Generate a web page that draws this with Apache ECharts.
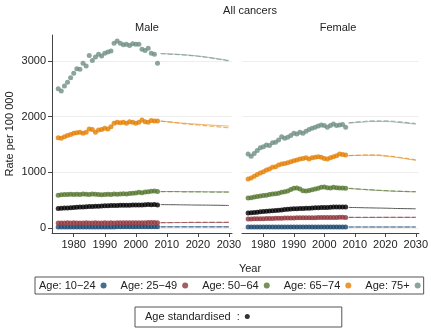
<!DOCTYPE html>
<html>
<head>
<meta charset="utf-8">
<script src="https://cdn.jsdelivr.net/npm/echarts@6/dist/echarts.min.js"></script>
<style>
  html, body { margin: 0; padding: 0; background: #fff; }
  #chart { width: 431px; height: 330px; }
</style>
</head>
<body>
<div id="chart"></div>
<script>
// observed years and projection years
const years = [1975, 1976, 1977, 1978, 1979, 1980, 1981, 1982, 1983, 1984, 1985, 1986, 1987, 1988, 1989, 1990, 1991,
  1992, 1993, 1994, 1995, 1996, 1997, 1998, 1999, 2000, 2001, 2002, 2003, 2004, 2005, 2006, 2007]
const projYears = [2008, 2012, 2016, 2020, 2024, 2030]
const xTicks = [1980, 1990, 2000, 2010, 2020, 2030]
const yTicks = [0, 1000, 2000, 3000]

const groups = ['Age: 10\u221224', 'Age: 25\u221249', 'Age: 50\u221264', 'Age: 65\u221274', 'Age: 75+']
const stdName = 'Age standardised  :'

// Male
const male1024 = [17, 17, 18, 18, 18, 18, 19, 19, 19, 19, 19, 20, 20, 20, 20, 20, 20, 20, 20, 21, 21, 21, 21, 21, 21, 21, 21, 21, 21, 21, 21, 21, 21]
const male2549 = [88, 90, 90, 92, 90, 92, 90, 91, 90, 92, 90, 91, 92, 90, 91, 92, 90, 92, 91, 92, 93, 92, 93, 94, 93, 95, 96, 95, 96, 97, 98, 97, 96]
const male5064 = [590, 595, 600, 600, 605, 600, 605, 600, 610, 605, 600, 610, 605, 600, 595, 600, 605, 600, 610, 605, 610, 615, 610, 620, 625, 630, 640, 635, 645, 650, 660, 665, 655]
const male6574 = [1620, 1610, 1640, 1660, 1680, 1700, 1710, 1720, 1700, 1720, 1780, 1770, 1720, 1760, 1770, 1790, 1780, 1820, 1880, 1900, 1890, 1900, 1880, 1910, 1900, 1880, 1900, 1940, 1910, 1900, 1930, 1920, 1920]
const male75 = [2500, 2460, 2550, 2620, 2700, 2780, 2860, 2850, 2960, 2910, 3100, 3010, 3070, 3120, 3090, 3140, 3160, 3180, 3320, 3360, 3320, 3290, 3300, 3280, 3310, 3300, 3300, 3210, 3190, 3230, 3140, 3120, 2960]
const maleStd = [350, 355, 360, 360, 365, 370, 372, 375, 378, 380, 385, 385, 390, 392, 395, 400, 400, 402, 405, 405, 408, 410, 410, 410, 412, 412, 415, 415, 418, 420, 418, 420, 415]

// Male projections: dashed (A) and solid (B)
const maleProjA = [
  [21, 21, 21, 21, 21, 21],
  [96, 98, 99, 100, 101, 102],
  [655, 652, 650, 648, 646, 645],
  [1920, 1895, 1870, 1850, 1830, 1800],
  [3130, 3120, 3105, 3085, 3055, 3000],
]
const maleProjB = [
  [21, 21, 21, 21, 21, 21],
  [96, 97, 98, 99, 100, 101],
  [655, 655, 653, 652, 650, 648],
  [1920, 1900, 1880, 1865, 1850, 1830],
  [3135, 3125, 3110, 3090, 3062, 3010],
]
const maleStdProj = [420, 418, 415, 412, 410, 405]

// Female
const fem1024 = [16, 16, 16, 17, 17, 17, 17, 17, 17, 17, 17, 17, 18, 18, 18, 18, 18, 18, 18, 18, 18, 18, 18, 18, 18, 18, 18, 18, 18, 18, 18, 18, 18]
const fem2549 = [160, 162, 164, 165, 166, 168, 170, 170, 172, 174, 175, 176, 178, 178, 180, 180, 182, 182, 183, 184, 185, 185, 186, 187, 188, 188, 189, 190, 190, 190, 191, 191, 190]
const fem5064 = [540, 545, 555, 565, 575, 585, 590, 600, 610, 615, 625, 640, 650, 665, 690, 715, 720, 700, 670, 665, 675, 685, 700, 715, 730, 735, 725, 720, 730, 725, 720, 720, 715]
const fem6574 = [880, 900, 930, 960, 990, 1010, 1040, 1060, 1090, 1100, 1130, 1150, 1160, 1170, 1190, 1210, 1220, 1240, 1250, 1260, 1240, 1260, 1270, 1280, 1270, 1250, 1240, 1260, 1280, 1300, 1330, 1320, 1310]
const fem75 = [1330, 1290, 1340, 1390, 1440, 1460, 1490, 1480, 1530, 1540, 1580, 1640, 1610, 1630, 1660, 1700, 1690, 1720, 1700, 1740, 1770, 1790, 1810, 1830, 1850, 1840, 1810, 1840, 1870, 1840, 1850, 1860, 1810]
const femStd = [270, 275, 280, 285, 290, 295, 300, 305, 310, 315, 320, 325, 330, 335, 340, 345, 345, 350, 350, 355, 355, 360, 362, 365, 368, 370, 370, 372, 375, 375, 378, 378, 375]

const femProjA = [
  [18, 18, 18, 18, 18, 18],
  [190, 190, 191, 192, 192, 192],
  [712, 698, 684, 672, 662, 652],
  [1300, 1310, 1315, 1300, 1275, 1225],
  [1890, 1910, 1925, 1925, 1910, 1875],
]
const femProjB = [
  [18, 18, 18, 18, 18, 18],
  [190, 189, 190, 191, 191, 191],
  [710, 695, 680, 668, 658, 650],
  [1300, 1305, 1305, 1290, 1265, 1215],
  [1885, 1900, 1912, 1912, 1898, 1865],
]
const femStdProj = [370, 365, 360, 356, 350, 345]

const colors = ['#1a476f', '#90353b', '#55752f', '#e37e00', '#6e8e84']
const font = 'Liberation Sans'
const textColor = '#222'

function pairs(xs, vals) {
  return xs.map((x, i) => [x, vals[i]])
}

function panelSeries(idx, obs, std, projA, projB, stdProj) {
  const list = []
  obs.forEach((vals, g) => {
    list.push({
      name: groups[g], type: 'scatter', xAxisIndex: idx, yAxisIndex: idx,
      data: pairs(years, vals), symbolSize: 5, itemStyle: { color: colors[g] }, z: 3,
    })
    list.push({
      name: 'projA' + g, type: 'line', xAxisIndex: idx, yAxisIndex: idx, smooth: true, symbol: 'none',
      data: pairs(projYears, projA[g]),
      lineStyle: { color: colors[g], width: 1.2, type: [5, 2], opacity: 0.6 }, z: 2,
    })
    list.push({
      name: 'projB' + g, type: 'line', xAxisIndex: idx, yAxisIndex: idx, smooth: true, symbol: 'none',
      data: pairs(projYears, projB[g]),
      lineStyle: { color: colors[g], width: 0.8, opacity: 0.7 }, z: 2,
    })
  })
  list.push({
    name: stdName, type: 'scatter', xAxisIndex: idx, yAxisIndex: idx,
    data: pairs(years, std), symbolSize: 5, itemStyle: { color: '#000' }, z: 3,
  })
  list.push({
    name: 'stdProj', type: 'line', xAxisIndex: idx, yAxisIndex: idx, smooth: true, symbol: 'none',
    data: pairs(projYears, stdProj),
    lineStyle: { color: '#555', width: 1 }, z: 2,
  })
  return list
}

function xAxisFor(idx) {
  return {
    type: 'value', gridIndex: idx, min: 1973, max: 2031,
    axisLine: { onZero: false, lineStyle: { color: '#444', width: 1 } },
    axisTick: { customValues: xTicks, length: 4, lineStyle: { color: '#444' } },
    axisLabel: { customValues: xTicks, color: textColor, fontFamily: font, fontSize: 11, margin: 6, formatter: v => String(v) },
    splitLine: { show: false },
  }
}

function yAxisFor(idx) {
  const left = idx === 0
  return {
    type: 'value', gridIndex: idx, min: -90, max: 3467,
    name: left ? 'Rate per 100 000' : '',
    nameLocation: 'middle', nameGap: 37,
    nameTextStyle: { color: textColor, fontFamily: font, fontSize: 11 },
    axisLine: { show: left, lineStyle: { color: '#444', width: 1 } },
    axisTick: { show: left, customValues: yTicks, length: 4, lineStyle: { color: '#444' } },
    axisLabel: { show: left, customValues: yTicks, color: textColor, fontFamily: font, fontSize: 11, margin: 6, formatter: v => String(v) },
    splitLine: { show: true, lineStyle: { color: '#eeeeee', width: 1 } },
  }
}

const chart = echarts.init(document.getElementById('chart'), null, { renderer: 'canvas' })
chart.setOption({
  animation: false,
  title: [
    { text: 'All cancers', left: 245, top: 0, textAlign: 'center', textStyle: { fontFamily: font, fontSize: 11, fontWeight: 'normal', color: textColor } },
    { text: 'Male', left: 142, top: 17, textAlign: 'center', textStyle: { fontFamily: font, fontSize: 11, fontWeight: 'normal', color: textColor } },
    { text: 'Female', left: 333, top: 17, textAlign: 'center', textStyle: { fontFamily: font, fontSize: 11, fontWeight: 'normal', color: textColor } },
    { text: 'Year', left: 245, top: 258, textAlign: 'center', textStyle: { fontFamily: font, fontSize: 11, fontWeight: 'normal', color: textColor } },
  ],
  grid: [
    { left: 52, top: 35, width: 180, height: 198 },
    { left: 242, top: 35, width: 182, height: 198 },
  ],
  xAxis: [xAxisFor(0), xAxisFor(1)],
  yAxis: [yAxisFor(0), yAxisFor(1)],
  legend: [
    {
      data: groups, left: 35, top: 277, align: 'right', icon: 'circle', itemWidth: 6, itemHeight: 6, itemGap: 14,
      padding: [3, 3, 3, 4], borderColor: '#555', borderWidth: 1, selectedMode: false,
      textStyle: { fontFamily: font, fontSize: 11, color: textColor },
    },
    {
      data: [stdName], left: 135, top: 307, align: 'right', icon: 'circle', itemWidth: 5, itemHeight: 5,
      padding: [4, 92, 5, 10], borderColor: '#555', borderWidth: 1, selectedMode: false,
      textStyle: { fontFamily: font, fontSize: 11, color: textColor },
    },
  ],
  series: [
    ...panelSeries(0, [male1024, male2549, male5064, male6574, male75], maleStd, maleProjA, maleProjB, maleStdProj),
    ...panelSeries(1, [fem1024, fem2549, fem5064, fem6574, fem75], femStd, femProjA, femProjB, femStdProj),
  ],
})
</script>
</body>
</html>
